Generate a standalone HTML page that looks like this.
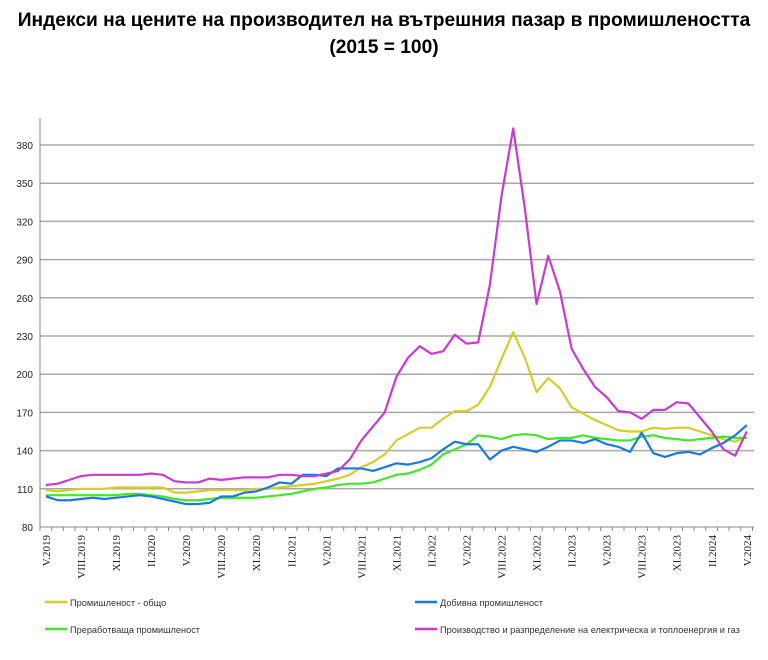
<!DOCTYPE html>
<html><head><meta charset="utf-8"><style>
body{margin:0;background:#fff;width:768px;height:655px;overflow:hidden}
</style></head><body>
<svg id="s" width="768" height="655" xmlns="http://www.w3.org/2000/svg" font-family="Liberation Sans, DejaVu Sans, sans-serif">
<text x="384" y="26" text-anchor="middle" font-size="19.2" font-weight="bold">Индекси на цените на производител на вътрешния пазар в промишлеността</text>
<text x="384" y="53" text-anchor="middle" font-size="19.2" font-weight="bold">(2015 = 100)</text>
<g id="g"></g>
</svg>
<script>
const NS="http://www.w3.org/2000/svg",g=document.getElementById('g');
function el(t,a,txt){const e=document.createElementNS(NS,t);for(const k in a)e.setAttribute(k,a[k]);if(txt!==undefined)e.textContent=txt;g.appendChild(e);return e;}
const Y=v=>527-(v-80)*1.2733, X=i=>46+i*11.68;
for(let v=110;v<=380;v+=30)el('line',{x1:40,x2:754,y1:Y(v),y2:Y(v),stroke:'#a8a8a8','stroke-width':1.5});
for(let v=80;v<=380;v+=30)el('text',{x:33,y:Y(v)+4,'text-anchor':'end','font-size':10,fill:'#222'},v);
el('line',{x1:40,x2:40,y1:118,y2:527,stroke:'#888','stroke-width':1});
el('line',{x1:40,x2:754,y1:527,y2:527,stroke:'#888','stroke-width':1});
for(let i=0;i<=61;i++){const x=40+i*11.68;el('line',{x1:x,x2:x,y1:527,y2:531,stroke:'#888','stroke-width':1});}
const L=['V.2019','VIII.2019','XI.2019','II.2020','V.2020','VIII.2020','XI.2020','II.2021','V.2021','VIII.2021','XI.2021','II.2022','V.2022','VIII.2022','XI.2022','II.2023','V.2023','VIII.2023','XI.2023','II.2024','V.2024'];
L.forEach((t,k)=>{const x=X(k*3)+4,y=535;el('text',{x:x,y:y,transform:`rotate(-90 ${x} ${y})`,'text-anchor':'end','font-size':11,'font-family':'Liberation Serif, serif',fill:'#222'},t);});
const M=[113,114,117,120,121,121,121,121,121,122,121,116,115,115,118,117,118,119,119,119,121,121,120,120,122,124,133,148,159,170,198,213,222,216,218,231,224,225,270,340,393,330,255,293,265,220,204,190,182,171,170,165,172,172,178,177,166,155,141,136,155];
const Yl=[109,108,109,110,110,110,111,111,111,111,111,107,107,108,109,109,109,109,110,110,111,112,113,114,116,118,121,127,131,137,148,153,158,158,165,171,171,176,190,212,233,213,186,197,189,174,169,164,160,156,155,155,158,157,158,158,155,152,149,147,151];
const G=[105,105,105,105,105,105,105,106,106,105,104,102,101,101,102,103,103,103,103,104,105,106,108,110,111,113,114,114,115,118,121,122,125,129,137,141,145,152,151,149,152,153,152,149,150,150,152,150,149,148,148,151,152,150,149,148,149,150,151,150,150];
const B=[104,101,101,102,103,102,103,104,105,104,102,100,98,98,99,104,104,107,108,111,115,114,121,121,120,126,126,126,124,127,130,129,131,134,141,147,145,145,133,140,143,141,139,143,148,148,146,149,145,143,139,154,138,135,138,139,137,142,146,152,160];
[[Yl,'#d6cc2a'],[G,'#44e62a'],[B,'#1a78e6'],[M,'#c93ad0']].forEach(([d,c])=>{el('polyline',{points:d.map((v,i)=>X(i)+','+Y(v)).join(' '),fill:'none',stroke:c,'stroke-width':2.2,'stroke-linejoin':'round'});});
const lg=[[45,602,'#d6cc2a','Промишленост - общо'],[415,602,'#1a78e6','Добивна промишленост'],[45,629,'#44e62a','Преработваща промишленост'],[415,629,'#c93ad0','Производство и разпределение на електрическа и топлоенергия и газ']];
lg.forEach(([x,y,c,t])=>{el('line',{x1:x,x2:x+22,y1:y,y2:y,stroke:c,'stroke-width':2.5});el('text',{x:x+25,y:y+4,'font-size':9.2,fill:'#333'},t);});
</script>
</body></html>
